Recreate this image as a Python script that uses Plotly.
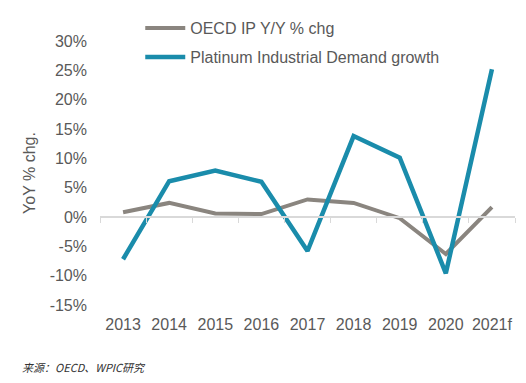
import plotly.graph_objects as go

years = ["2013", "2014", "2015", "2016", "2017", "2018", "2019", "2020", "2021f"]
oecd_ip = [0.8, 2.4, 0.6, 0.5, 3.0, 2.4, -0.2, -6.3, 1.7]
platinum = [-7.2, 6.1, 7.9, 6.0, -5.8, 13.8, 10.1, -9.6, 25.2]
y_ticks = [-15, -10, -5, 0, 5, 10, 15, 20, 25, 30]

GREY = "#8a857f"
BLUE = "#1a8cab"
TXT = "#595959"
FONT = "Liberation Sans, Arial, sans-serif"

fig = go.Figure()
fig.add_trace(go.Scatter(x=years, y=oecd_ip, mode="lines", name="OECD IP Y/Y % chg",
                         line=dict(color=GREY, width=4), legend="legend"))
fig.add_trace(go.Scatter(x=years, y=platinum, mode="lines", name="Platinum Industrial Demand growth",
                         line=dict(color=BLUE, width=4.5), legend="legend2"))
# helper trace for the zero-line category axis (no visible marks)
fig.add_trace(go.Scatter(x=years, y=[None] * len(years), xaxis="x2", showlegend=False,
                         hoverinfo="skip", mode="lines"))

fig.update_layout(
    width=510, height=367,
    margin=dict(l=92, r=3, t=33, b=70),
    paper_bgcolor="white", plot_bgcolor="white",
    font=dict(family=FONT, size=16, color=TXT),
    xaxis=dict(type="category", categoryarray=years, range=[-0.5, 8.5],
               showline=False, showgrid=False, zeroline=False, ticks="",
               ticklabelstandoff=8, tickfont=dict(size=16, color=TXT)),
    xaxis2=dict(type="category", categoryarray=years, range=[-0.5, 8.5], overlaying="x",
                anchor="free", position=1/3, side="bottom", showline=True, linecolor="#d9d9d9",
                linewidth=1.5, ticks="outside", tickson="boundaries", ticklen=5, tickcolor="#d9d9d9",
                showticklabels=False, showgrid=False, zeroline=False),
    yaxis=dict(range=[-15, 30], tickvals=y_ticks, ticktext=[f"{v}%" for v in y_ticks],
               showgrid=False, zeroline=False, showline=False, ticks="",
               ticklabelstandoff=12, tickfont=dict(size=16, color=TXT),
               title=dict(text="YoY % chg.", font=dict(size=16, color=TXT), standoff=10)),
    legend=dict(x=0.097, y=(305 - 28) / 264, xanchor="left", yanchor="middle", itemwidth=40,
                bgcolor="rgba(0,0,0,0)", font=dict(size=16, color=TXT)),
    legend2=dict(x=0.097, y=(305 - 57) / 264, xanchor="left", yanchor="middle", itemwidth=40,
                 bgcolor="rgba(0,0,0,0)", font=dict(size=16, color=TXT)),
    annotations=[dict(text="<i>来源：OECD、WPIC研究</i>", xref="paper", yref="paper",
                      x=(20 - 100) / 415, y=(305 - 367) / 264, xanchor="left", yanchor="middle",
                      showarrow=False, font=dict(size=11, color="#333333",
                                                 family="Noto Sans CJK SC, sans-serif"))],
)

fig.write_html("out.html")
